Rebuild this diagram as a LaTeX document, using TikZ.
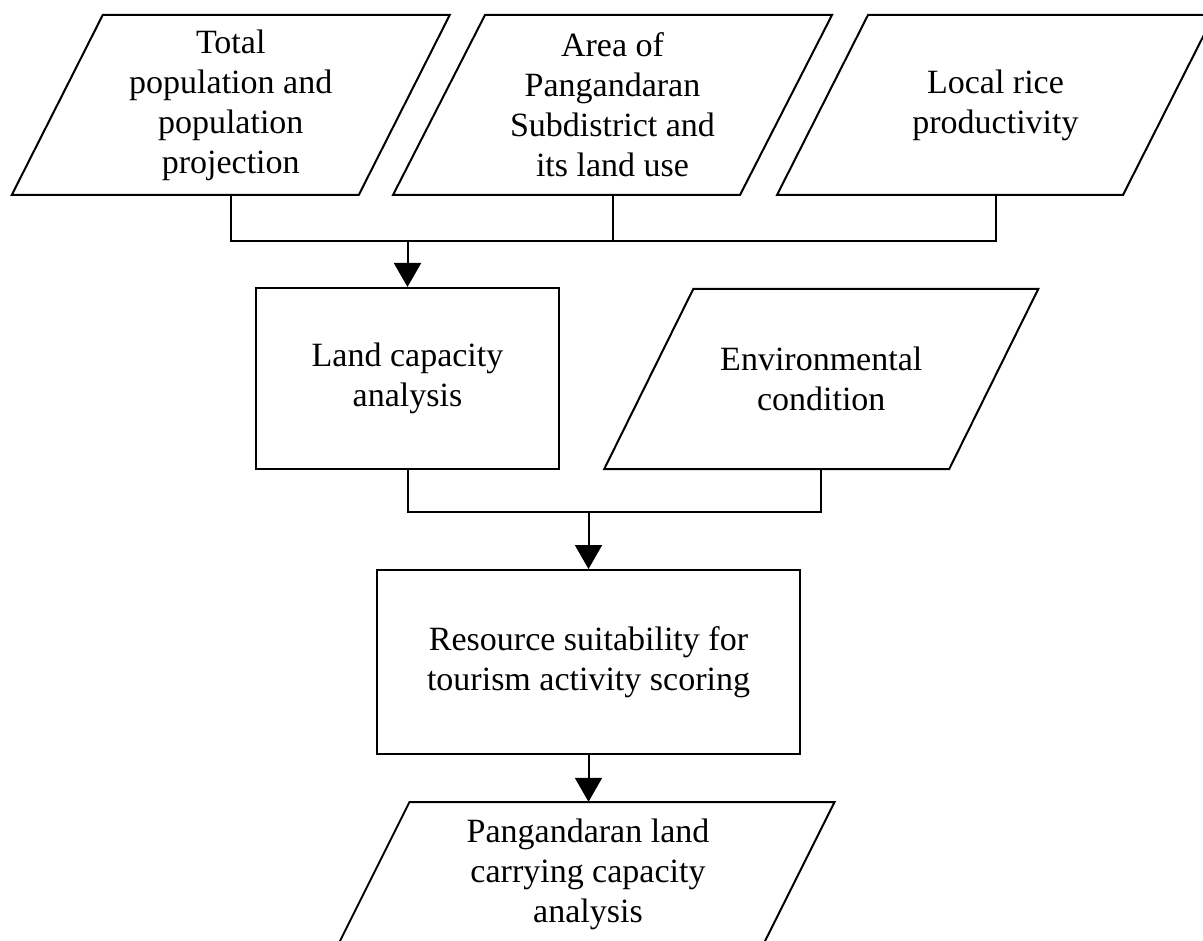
\documentclass[tikz,border=0pt]{standalone}
\usepackage{fontspec}
\setmainfont{Liberation Serif}
\usetikzlibrary{arrows.meta,calc}
\newcommand{\drawpara}[4]{%
  \draw[edgeline] ($(#1.center)+(-#2-#4,#3)$) -- ($(#1.center)+(#2-#4,#3)$)
    -- ($(#1.center)+(#2+#4,-#3)$) -- ($(#1.center)+(-#2+#4,-#3)$) -- cycle;}
\begin{document}
\begin{tikzpicture}[x=1pt,y=-1pt,
  edgeline/.style={line width=2pt,line join=miter},
  txt/.style={font=\fontsize{34}{40}\selectfont,align=center,inner sep=0pt},
  holder/.style={draw=none,inner sep=0pt,minimum width=#1,minimum height=180},
  procbox/.style={draw,line width=2pt,txt},
  conn/.style={line width=2pt},
  arr/.style={line width=2pt,-{Triangle[width=27pt,length=24pt]}}]
\useasboundingbox (0,0) rectangle (1203,941);
\fill[white] (0,0) rectangle (1203,941);
\clip (0,0) rectangle (1203,941);
% top inputs
\node[holder=347,txt] (p1) at (230.75,105) {Total\\population and\\population\\projection};
\node[holder=347,txt] (p2) at (612.5,105) {Area of\\Pangandaran\\Subdistrict and\\its land use};
\node[holder=346,txt] (p3) at (995.5,105) {Local rice\\productivity};
\drawpara{p1}{173.5}{90}{45.5}
\drawpara{p2}{173.5}{90}{46}
\drawpara{p3}{173}{90}{45.5}
% land capacity
\node[procbox,minimum width=303,minimum height=181] (land) at (407.5,378.5) {Land capacity\\analysis};
\node[holder=345,txt] (env) at (821.25,379) {Environmental\\condition};
\drawpara{env}{172.5}{90}{44.5}
% resource
\node[procbox,minimum width=423,minimum height=184] (res) at (588.5,662) {Resource suitability for\\tourism activity scoring};
% output
\node[holder=425] (out) at (577,892) {};
\drawpara{out}{212.5}{90}{45}
\node[txt] (outtext) at (588,874) {Pangandaran land\\carrying capacity\\analysis};
% connectors
\path (land.north) ++(0,-46) coordinate (bus1);
\draw[conn] (p1.south) |- (bus1 -| p3.south) -- (p3.south);
\draw[conn] (p2.south) -- (p2.south |- bus1);
\draw[arr] (bus1) -- (land.north);
\path (res.north) ++(0,-57) coordinate (bus2);
\draw[conn] (land.south) |- (bus2 -| env.south) -- (env.south);
\draw[arr] (bus2) -- (res.north);
\draw[arr] (res.south) -- (res.south |- out.north);
\end{tikzpicture}
\end{document}
